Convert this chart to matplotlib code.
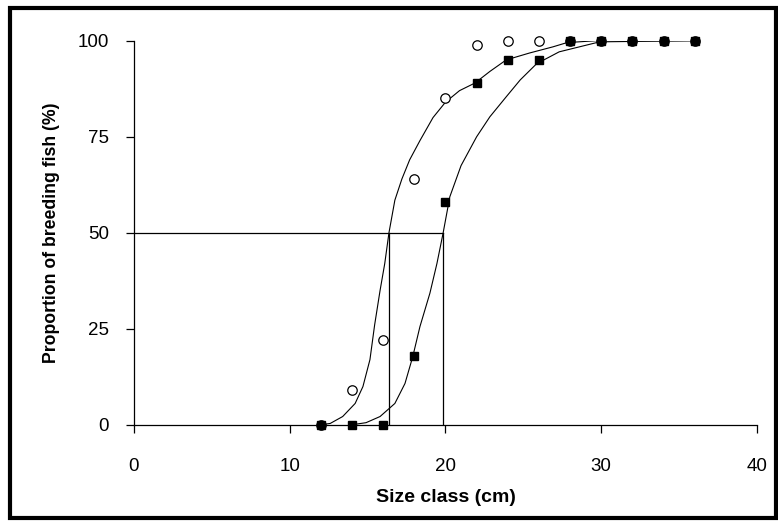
import matplotlib
matplotlib.use("Agg")
import matplotlib.pyplot as plt
from matplotlib.patches import Rectangle

plt.rcParams['font.family'] = ['Liberation Sans', 'DejaVu Sans']

# observed proportions of breeding fish per size class
size_class = [12, 14, 16, 18, 20, 22, 24, 26, 28, 30, 32, 34, 36]
open_pct = [0, 9, 22, 64, 85, 99, 100, 100, 100, 100, 100, 100, 100]
filled_pct = [0, 0, 0, 18, 58, 89, 95, 95, 100, 100, 100, 100, 100]

# fitted curves
fit_open_x = [11.9, 12.6, 13.4, 14.2, 14.7, 15.15, 15.45, 15.8, 16.1, 16.37,
              16.75, 17.2, 17.7, 18.36, 19.2, 20.0, 20.9, 21.9, 22.85, 23.9,
              25.4, 26.9, 27.8, 29.7, 36]
fit_open_y = [0, 0.4, 2.2, 5.6, 10, 17, 26, 35, 42, 50,
              58.5, 64, 69, 74, 80, 84, 87, 89, 92, 95,
              96.8, 98.4, 99.5, 100, 100]
fit_filled_x = [13.9, 14.9, 15.8, 16.75, 17.4, 17.9, 18.36, 19.0, 19.45, 19.85,
                20.28, 21.0, 21.6, 22.0, 22.85, 23.9, 24.8, 25.85, 27.3, 28.6,
                29.9, 36]
fit_filled_y = [0, 0.6, 2.2, 5.6, 10.8, 17.8, 25.6, 34.3, 42, 50,
                59.4, 67.5, 72, 75, 80.2, 85.4, 89.8, 94, 97.1, 98.4,
                99.7, 100]

# size at 50% breeding
l50_open = 16.37
l50_filled = 19.85

fig = plt.figure(figsize=(7.78, 5.21), dpi=100)
ax = fig.add_axes([0.1722, 0.1843, 0.8008, 0.7376])

ax.plot(fit_open_x, fit_open_y, color='black', lw=0.8, zorder=2)
ax.plot(fit_filled_x, fit_filled_y, color='black', lw=0.8, zorder=2)

ax.plot([0, l50_filled], [50, 50], color='black', lw=0.9, zorder=1)
ax.plot([l50_open, l50_open], [0, 50], color='black', lw=0.9, zorder=1)
ax.plot([l50_filled, l50_filled], [0, 50], color='black', lw=0.9, zorder=1)

ax.plot(size_class, open_pct, 'o', ms=6.8, mfc='white', mec='black', mew=0.9,
        zorder=3, clip_on=False)
ax.plot(size_class, filled_pct, 's', ms=6.2, mfc='black', mec='black',
        zorder=4, clip_on=False)

ax.set_xlim(0, 40)
ax.set_ylim(0, 100)
ax.set_xticks([0, 10, 20, 30, 40])
ax.set_yticks([0, 25, 50, 75, 100])
for s in ['top', 'right']:
    ax.spines[s].set_visible(False)
for s in ['left', 'bottom']:
    ax.spines[s].set_linewidth(0.9)
ax.tick_params(direction='out', length=6, width=0.9, labelsize=13.5)
ax.tick_params(axis='y', pad=12)
ax.tick_params(axis='x', pad=18)

ax.set_xlabel('Size class (cm)', fontsize=14, fontweight='bold', labelpad=10)
ax.set_ylabel('Proportion of breeding fish (%)', fontsize=12.7,
              fontweight='bold', labelpad=13)

border = Rectangle((0.013, 0.006), 0.984, 0.978, transform=fig.transFigure,
                   fill=False, edgecolor='black', lw=3)
fig.patches.append(border)

fig.savefig('out.png', dpi=100)
